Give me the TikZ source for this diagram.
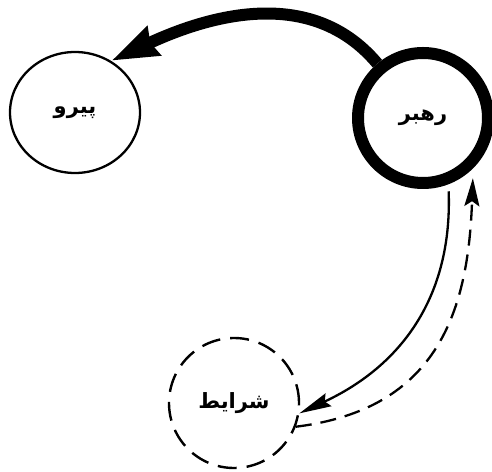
\documentclass[tikz,border=0pt]{standalone}
\usepackage{fontspec}
\TeXXeTstate=1
\newfontfamily\arabicfont[Script=Arabic]{DejaVu Sans}
\usetikzlibrary{arrows.meta,shapes.geometric}
\begin{document}
\begin{tikzpicture}[x=1pt,y=1pt,
  lbl/.style={font=\arabicfont\bfseries\fontsize{21}{24}\selectfont},
  actor/.style={draw,inner sep=0pt,lbl},
  thickarrow/.style={line width=12pt,-{Stealth[length=46pt,width=30pt,inset=3pt]}},
  thinarrow/.style={line width=2.3pt,-{Stealth[length=32pt,width=14pt,inset=4pt]}},
  dasharrow/.style={line width=2.3pt,dash pattern=on 16pt off 9pt,-{Stealth[length=28pt,width=15pt,inset=5pt]}}]
\useasboundingbox (0,0) rectangle (492,471);
\node[actor,ellipse,line width=2.3pt,minimum width=130pt,minimum height=121pt] (follower) at (75,358.5) {\beginR پیرو\endR};
\node[actor,circle,line width=12pt,minimum size=130pt] (leader) at (423,353) {\beginR رهبر\endR};
\node[actor,circle,line width=2.4pt,dash pattern=on 19pt off 10pt,minimum size=130pt] (conditions) at (234,68) {\beginR شرایط\endR};
\draw[thickarrow] (leader.130) to[out=130,in=25] (follower.55);
\draw[thinarrow,shorten <=7pt] (leader.-69) to[out=-88,in=25,out distance=115pt,in distance=110pt] (conditions.-9);
\draw[dasharrow,shorten >=10pt] (conditions.-21) to[out=7,in=-92,out distance=145pt,in distance=140pt] (leader.-45);
\end{tikzpicture}
\end{document}
